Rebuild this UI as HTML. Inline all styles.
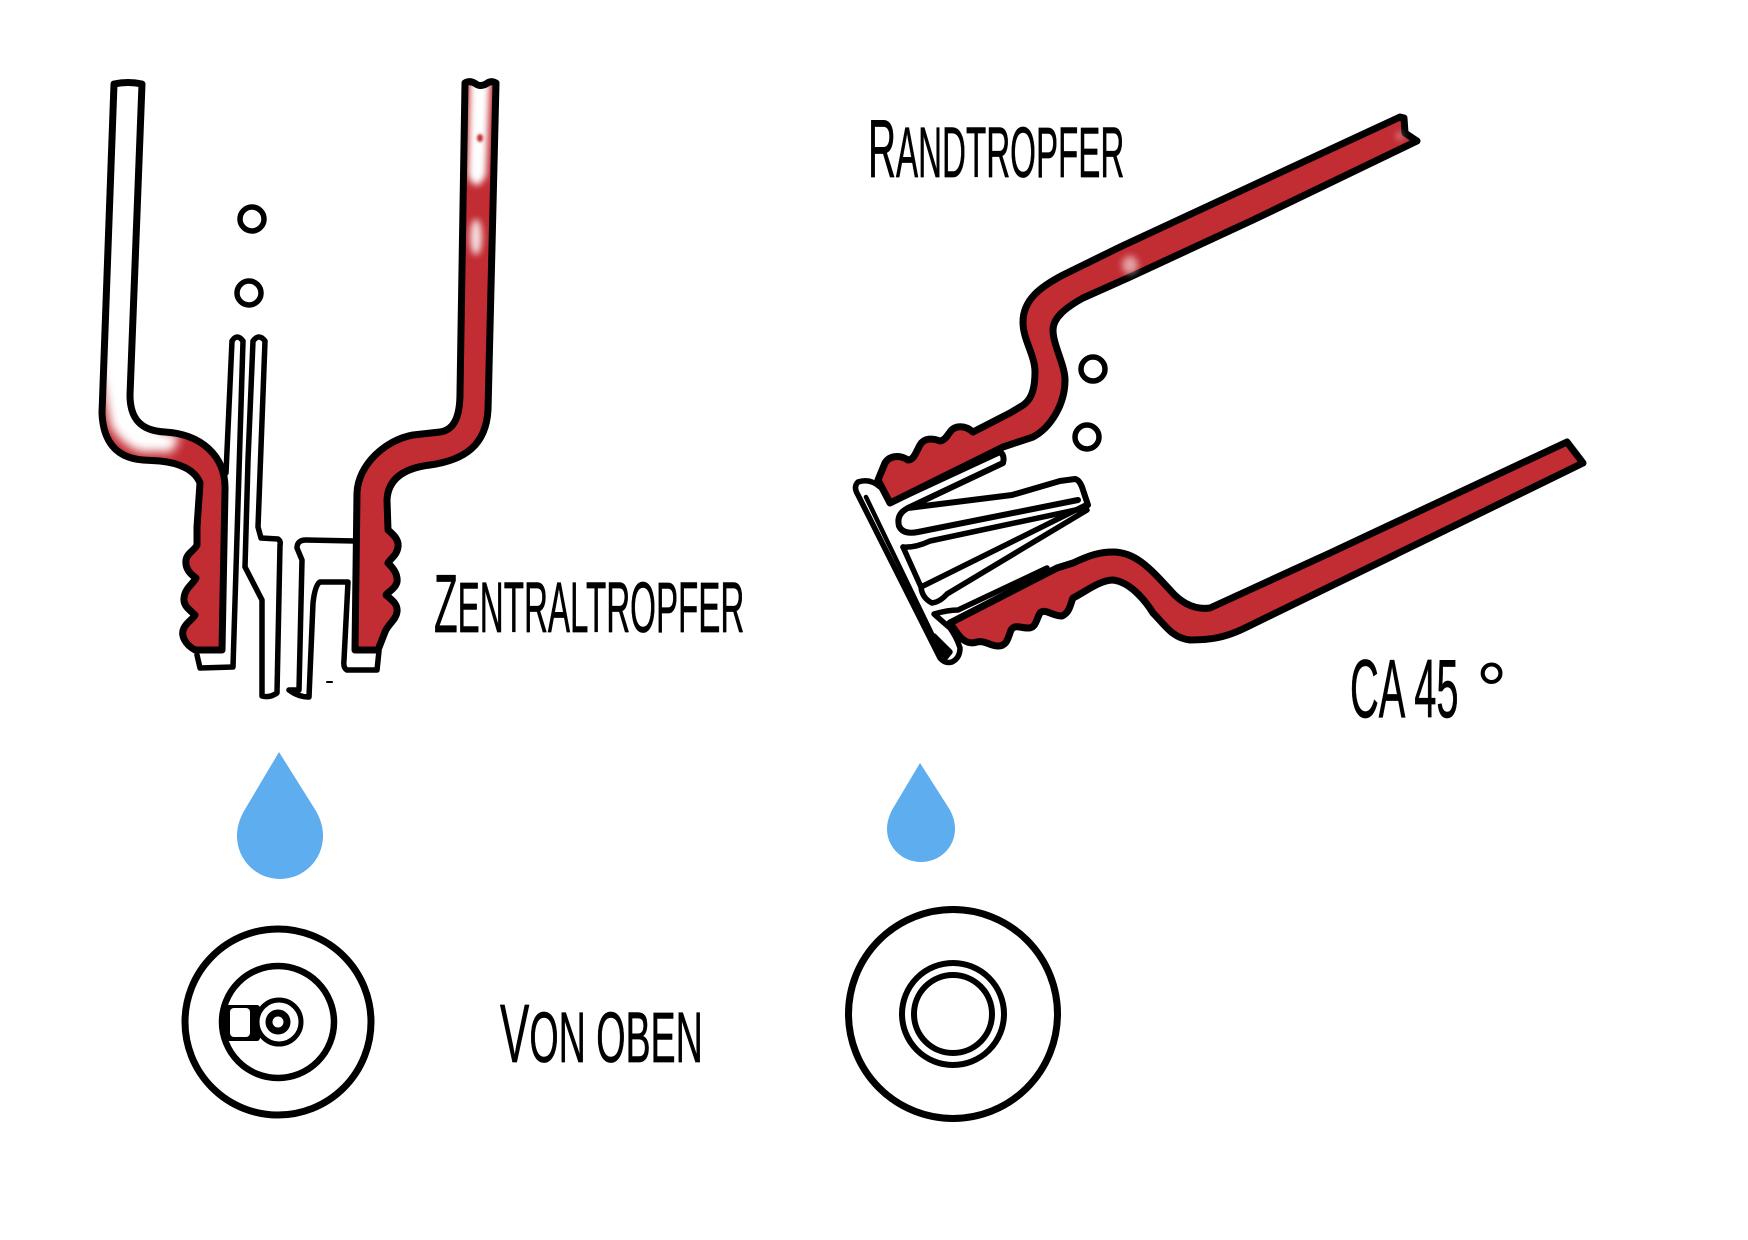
<!DOCTYPE html>
<html><head><meta charset="utf-8"><style>
html,body{margin:0;padding:0;background:#fff;width:1748px;height:1240px;overflow:hidden}
svg{display:block;fill:none}
.k{stroke:#000;stroke-linecap:round;stroke-linejoin:round}
.t{font-family:"Liberation Sans",sans-serif;font-size:83px;fill:#000;stroke:#000;stroke-width:.7;stroke-linejoin:round}
.s{font-size:71px;text-transform:uppercase}
</style></head><body>
<svg width="1748" height="1240" viewBox="0 0 1748 1240" xmlns="http://www.w3.org/2000/svg">
<defs>
<filter id="b5" x="-40%" y="-40%" width="180%" height="180%"><feGaussianBlur stdDeviation="5"/></filter>
<filter id="b3" x="-60%" y="-60%" width="220%" height="220%"><feGaussianBlur stdDeviation="3.5"/></filter>
<filter id="b1" x="-100%" y="-100%" width="300%" height="300%"><feGaussianBlur stdDeviation="1.2"/></filter>
<path id="L" d="M114,84 Q128,81 142,84 L130,395 C130,420 142,431 165,432 C200,434 226,455 225,490 L222,650 L195,650 C186,645 180,636 184,628 C187,622 192,620 195,615 C190,610 183,606 184,598 C185,588 193,584 196,578 C190,574 185,568 186,560 C187,553 195,550 197,545 L197,527 L200,483 C195,470 180,463 160,461 L143,460 C115,458 103,440 102,413 Z"/>
<path id="R" d="M465,83 Q470,80 476,84 Q480,87 486,84 Q491,80 496,83 L488,410 C486,445 465,460 430,465 C405,468 388,478 387,500 L388,530 C394,535 399,540 398,547 C397,555 391,558 388,563 C393,568 398,574 397,582 C395,589 389,591 386,595 C392,600 398,604 397,612 C396,620 388,624 385,632 L378,650 L355,650 L357,493 C358,465 385,440 413,435 L440,432 C455,430 460,415 460,393 Z"/>
<clipPath id="cL"><use href="#L"/></clipPath>
<clipPath id="cR"><use href="#R"/></clipPath>
</defs>

<!-- Left device -->
<use href="#L" fill="#c22c33"/>
<g clip-path="url(#cL)">
<path d="M100,70 L155,70 L142,415 Q150,430 180,436 L172,452 L140,452 Q120,444 110,425 L100,370 Z" fill="#fff" filter="url(#b5)"/>
</g>
<use href="#L" class="k" stroke-width="7"/>
<use href="#R" fill="#c22c33"/>
<g clip-path="url(#cR)" fill="#fff">
<path d="M470,78 L490,78 L488,130 L486,175 Q476,195 468,175 Z" filter="url(#b3)"/>
<ellipse cx="476" cy="237" rx="6" ry="18" opacity=".85" filter="url(#b3)"/>
<ellipse cx="480" cy="138" rx="3" ry="4" fill="#c22c33" filter="url(#b1)"/>
</g>
<use href="#R" class="k" stroke-width="7"/>

<circle cx="252" cy="219" r="12" fill="#fff" class="k" stroke-width="5.5"/>
<circle cx="249" cy="293" r="12" fill="#fff" class="k" stroke-width="5.5"/>

<g class="k" stroke-width="5.5">
<path d="M226,473 L232,341 Q237,333 243,341 L233,667 L200,668 L197,655"/>
<path d="M253,341 Q259,333 265,341 L258,527 L261,538 L278,539 Q281,541 280,545 L277,693 Q270,698 262,696 L262,600 L245,567 L248,460 Z"/>
<path d="M355,541 L306,540 Q297,540 297,548 L302,560 L299,690 L289,690 M289,690 Q298,697 309,697 L313,603 Q315,585 320,582 L348,582 L344,660 Q343,668 347,670 L377,670 L379,651"/>
<path d="M327,682 L332,682" stroke-width="2"/>
</g>

<!-- Right device -->
<path d="M1400,117 L1247,188 L1120,247 L1063,275 C1040,287 1023,300 1023,322 C1023,340 1035,355 1035,372 C1035,392 1030,402 1020,407 L1010,413 L973,432 C965,425 955,425 950,432 C947,436 945,440 940,441 C932,438 924,438 920,445 C916,452 914,460 908,460 C900,455 890,455 885,463 L878,480 L890,503 L1003,447 L1033,437 C1050,428 1065,405 1065,380 C1065,365 1053,345 1053,330 C1053,318 1065,308 1083,298 L1130,277 L1253,220 L1417,141 L1405,133 L1404,118 Z" fill="#c22c33" class="k" stroke-width="7"/>
<ellipse cx="1130" cy="265" rx="8" ry="9" fill="#fff" opacity=".55" filter="url(#b3)"/>
<ellipse cx="1400" cy="136" rx="4" ry="4" fill="#fff" opacity=".4" filter="url(#b3)"/>
<path d="M950,623 L1057,568 L1073,563 C1090,555 1100,552 1113,552 C1135,552 1150,568 1170,590 C1182,604 1195,610 1210,608 L1330,553 L1567,442 L1583,463 L1247,627 C1225,638 1210,640 1190,640 C1172,638 1165,625 1153,613 C1145,600 1130,582 1113,580 C1100,580 1085,592 1073,598 C1070,605 1070,612 1062,616 C1052,616 1045,608 1040,613 C1036,620 1036,628 1028,628 C1020,628 1015,624 1011,630 C1008,638 1007,646 998,646 C990,646 985,640 977,642 C968,645 962,640 957,633 Z" fill="#c22c33" class="k" stroke-width="7"/>

<circle cx="1093" cy="369" r="12" fill="#fff" class="k" stroke-width="5.5"/>
<circle cx="1087" cy="437" r="12" fill="#fff" class="k" stroke-width="5.5"/>

<g class="k" stroke-width="5.5">
<path d="M880,487 Q870,478 858,482 Q853,487 858,495 L940,658 Q945,664 952,662 Q960,658 960,648 Q957,638 950,628 L934,614 Q948,610 958,610 L1047,568"/>
<path d="M866,497 L934,638 L941,652" stroke-width="4.5"/>
<path d="M934,636 L945,658 L950,652 Z" fill="#000"/>
<path d="M890,503 L1000,452 Q1005,455 1003,463 L908,508 L1012,495 L1060,481 L1075,479 Q1080,480 1083,490 L1088,505 L1084,508" stroke-width="6"/>
<path d="M908,508 Q896,514 899,526 Q903,535 918,532 L1078,500" stroke-width="6"/>
<path d="M903,547 Q915,548 930,541 L1085,508"/>
<path d="M903,547 L921,587 L1086,505 M921,587 Q922,598 932,603 Q940,602 947,594 L1087,510"/>
</g>

<!-- Drops -->
<path d="M279,752 L316,811 C321,820 323,828 323,836 A43,43 0 0 1 237,836 C237,828 239,820 244,811 Z" fill="#5dadef"/>
<path d="M920,763 L950,810 C953,816 955,822 955,829 A34,33 0 0 1 887,829 C887,822 889,816 892,810 Z" fill="#5dadef"/>

<!-- Top views left -->
<circle cx="278" cy="1022" r="93" class="k" stroke-width="7"/>
<circle cx="278" cy="1022" r="56" class="k" stroke-width="6.5"/>
<rect x="222" y="1005" width="38" height="36" rx="3" fill="#000"/>
<rect x="230" y="1008" width="20" height="29" rx="4" fill="#fff"/>
<circle cx="279" cy="1022" r="22" fill="#fff" class="k" stroke-width="5"/>
<circle cx="278" cy="1022" r="9" fill="#fff" class="k" stroke-width="7"/>

<!-- Top views right -->
<circle cx="953" cy="1014" r="104.5" class="k" stroke-width="7"/>
<circle cx="953" cy="1014" r="51" class="k" stroke-width="6"/>
<circle cx="953" cy="1014" r="39" class="k" stroke-width="6"/>

<!-- Labels -->
<text class="t" transform="translate(434,632) scale(.467,1)">Z<tspan class="s">entraltropfer</tspan></text>
<text class="t" transform="translate(868,177) scale(.467,1)">R<tspan class="s">andtropfer</tspan></text>
<text class="t" transform="translate(500,1062) scale(.53,1)">V<tspan class="s">on oben</tspan></text>
<text class="t" transform="translate(1350,717) scale(.48,1)">CA 45</text>
<text x="1476" y="717" font-family="Liberation Sans, sans-serif" font-size="78" fill="#000">°</text>
</svg>
</body></html>
